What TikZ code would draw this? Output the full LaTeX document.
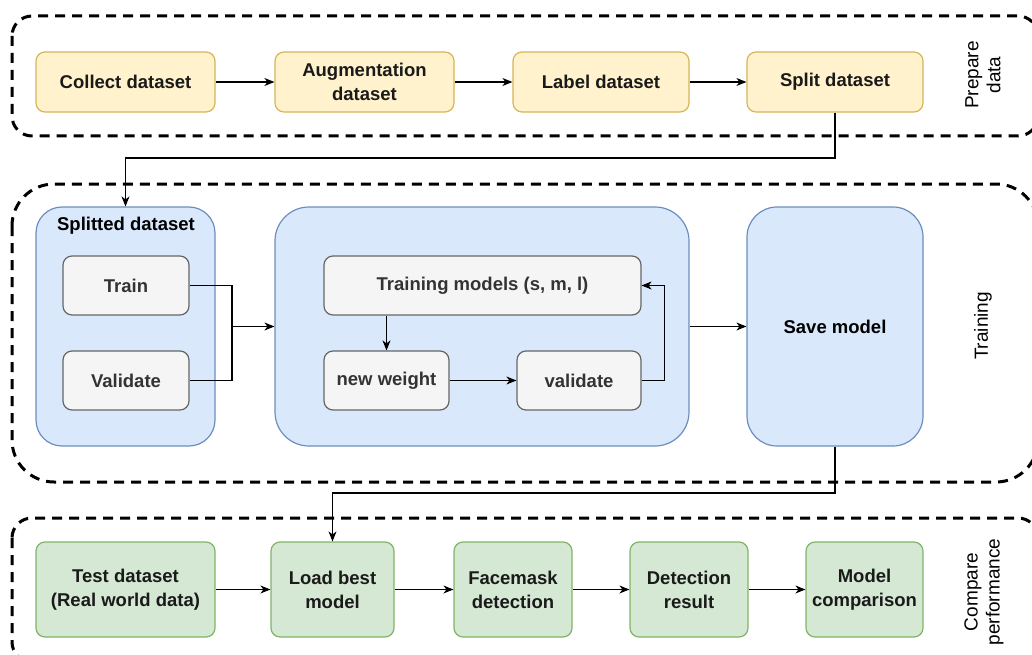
\documentclass[tikz,border=0pt]{standalone}
\usepackage{fontspec}
\setmainfont{Liberation Sans}
\usetikzlibrary{arrows.meta,calc}

\definecolor{ylwfill}{HTML}{FFF2CC}
\definecolor{ylwline}{HTML}{D6B656}
\definecolor{bluefill}{HTML}{DAE8FC}
\definecolor{blueline}{HTML}{6C8EBF}
\definecolor{grnfill}{HTML}{D5E8D4}
\definecolor{grnline}{HTML}{82B366}
\definecolor{grayfill}{HTML}{F5F5F5}
\definecolor{grayline}{HTML}{666666}
\definecolor{graytext}{HTML}{333333}
\definecolor{darktext}{HTML}{1A1A1A}

\tikzset{
  lbl/.style={font=\fontsize{18.5}{24}\selectfont\bfseries, align=center, text=darktext},
  box/.style={lbl, draw, line width=1.2pt, rounded corners=9pt, inner sep=0pt},
  ybox/.style={box, fill=ylwfill, draw=ylwline, minimum height=60pt},
  gbox/.style={box, fill=grnfill, draw=grnline, minimum height=95pt},
  sbox/.style={box, fill=grayfill, draw=grayline, text=graytext, minimum height=59pt},
  bbox/.style={box, fill=bluefill, draw=blueline, minimum height=239pt},
  group/.style={draw=black, line width=3pt, dash pattern=on 10pt off 7pt},
  side/.style={font=\fontsize{19}{22}\selectfont, align=center, rotate=90, text=black},
  arr/.style={draw=black, line width=1.1pt, -{Stealth[length=10pt,width=8pt,inset=3pt]}},
  ln/.style={draw=black, line width=1.1pt}
}

\begin{document}
\begin{tikzpicture}[x=1pt,y=-1pt]
\useasboundingbox (0,0) rectangle (1032,655);

% stage frames (their right sides run just past the page edge)
\draw[group, rounded corners=20pt] (12,16) rectangle (1038,136);
\draw[group, rounded corners=42pt] (12,184) rectangle (1038,482);
\draw[group, rounded corners=20pt] (12,518) rectangle (1038,662);

\node[side] (lprep) at (983,75) {Prepare\\data};
\node[side] (ltrain) at (983,326) {Training};
\node[side] (lcomp) at (984,592) {Compare\\performance};

% data preparation
\node[ybox, minimum width=179pt] (collect) at (125.5,82) {Collect dataset};
\node[ybox, minimum width=179pt] (aug) at (364.5,82) {Augmentation\\dataset};
\node[ybox, minimum width=176pt] (label) at (601,82) {Label dataset};
\node[ybox, minimum width=176pt] (split) at (835,82) {Split dataset};

% training
\node[bbox, minimum width=179pt, rounded corners=26pt] (splitted) at (125.5,326.5) {};
\node[lbl, text=black] (stitle) at (126,226) {Splitted dataset};
\node[sbox, minimum width=126pt] (train) at (126,285.5) {Train};
\node[sbox, minimum width=126pt] (valid) at (126,380.5) {Validate};

\node[bbox, minimum width=414pt, rounded corners=34pt] (loop) at (482,326.5) {};
\node[sbox, minimum width=317pt] (tm) at (482.5,285.5) {Training models (s, m, l)};
\node[sbox, minimum width=125pt] (nw) at (386.5,380.5) {new weight};
\node[sbox, minimum width=124pt] (val2) at (579,380.5) {validate};

\node[bbox, minimum width=176pt, rounded corners=30pt, text=black] (save) at (835,326.5) {Save model};

% performance comparison
\node[gbox, minimum width=179pt] (test) at (125.5,589.5) {Test dataset\\(Real world data)};
\node[gbox, minimum width=123pt] (load) at (332.5,589.5) {Load best\\model};
\node[gbox, minimum width=118pt] (face) at (513,589.5) {Facemask\\detection};
\node[gbox, minimum width=118pt] (det) at (689,589.5) {Detection\\result};
\node[gbox, minimum width=117pt] (comp) at (864.5,589.5) {Model\\comparison};

\coordinate (drop1) at (500,158);
\coordinate (drop2) at (500,493);
\coordinate (join) at (232,326.5);

% connectors
\draw[arr] (collect) -- (aug);
\draw[arr] (aug) -- (label);
\draw[arr] (label) -- (split);
\draw[arr] (split.south) |- (drop1) -| (splitted.north);

\draw[ln] (train.east) -| (join) |- (valid.east);
\draw[arr] (join) -- (loop.west);
\draw[arr] (tm.south -| nw.north) -- (nw.north);
\draw[arr] (nw) -- (val2);
\draw[arr] (val2.east) -- ++(23,0) |- (tm.east);
\draw[arr] (loop.east) -- (save.west);

\draw[arr] (save.south) |- (drop2) -| (load.north);
\draw[arr] (test) -- (load);
\draw[arr] (load) -- (face);
\draw[arr] (face) -- (det);
\draw[arr] (det) -- (comp);
\end{tikzpicture}
\end{document}
